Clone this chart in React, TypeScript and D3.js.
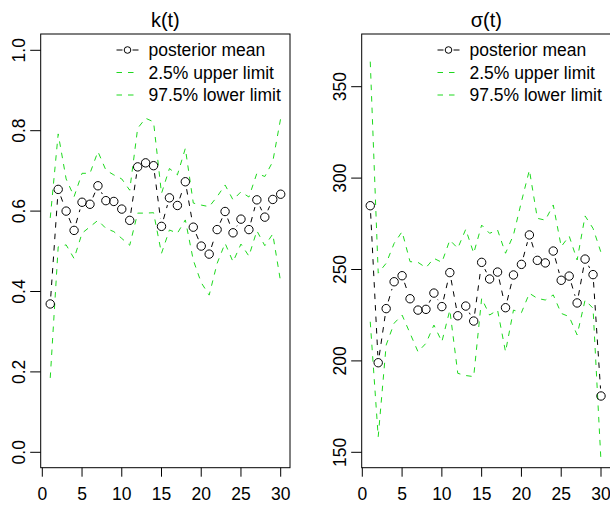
import React from "react";
import * as d3 from "d3";

const tValues = [1,2,3,4,5,6,7,8,9,10,11,12,13,14,15,16,17,18,19,20,21,22,23,24,25,26,27,28,29,30];

const kMean = [0.369,0.654,0.600,0.552,0.622,0.617,0.663,0.626,0.624,0.605,0.577,0.710,0.720,0.713,0.562,0.633,0.614,0.673,0.560,0.513,0.493,0.554,0.599,0.546,0.580,0.554,0.628,0.585,0.629,0.642];
const kUpper = [0.583,0.792,0.680,0.636,0.694,0.694,0.748,0.702,0.690,0.680,0.652,0.806,0.831,0.822,0.644,0.706,0.690,0.756,0.620,0.615,0.611,0.636,0.665,0.628,0.648,0.635,0.694,0.686,0.723,0.831];
const kLower = [0.185,0.511,0.516,0.482,0.545,0.561,0.577,0.557,0.549,0.532,0.515,0.595,0.595,0.596,0.495,0.553,0.545,0.578,0.478,0.422,0.391,0.470,0.520,0.474,0.518,0.488,0.551,0.514,0.543,0.423];

const sigmaMean = [284.9,199.0,228.6,243.3,246.6,234.0,227.8,228.2,237.1,229.7,248.3,224.7,230.0,221.8,253.9,244.8,248.6,229.1,247.0,252.8,268.9,255.0,253.6,260.1,244.1,246.4,231.7,255.7,247.2,180.8];
const sigmaUpper = [363.7,248.0,253.4,264.3,270.7,254.3,253.9,251.0,256.1,253.9,266.1,261.6,272.0,258.9,274.3,269.8,271.6,258.9,268.9,287.1,304.4,278.0,277.0,285.3,262.5,268.3,255.2,279.3,272.5,259.3];
const sigmaLower = [221.4,158.5,208.7,220.6,225.1,215.1,205.0,209.6,219.6,210.5,227.8,193.2,192.0,191.4,234.2,225.1,227.8,205.0,227.8,226.4,237.0,234.2,233.3,236.1,226.0,224.2,214.2,233.3,228.8,144.9];

const xTicks = [0,5,10,15,20,25,30];
const kTicks = [0,0.2,0.4,0.6,0.8,1.0];
const sigmaTicks = [150,200,250,300,350];

const legendLabels = ["posterior mean","2.5% upper limit","97.5% lower limit"];

const GREEN = "#1ed91e";
const DASH = "5.5,6";
const FONT = "'Liberation Sans', Arial, Helvetica, sans-serif";

type PanelProps = {
  title: string;
  mean: number[];
  upper: number[];
  lower: number[];
  yTicks: number[];
  yFmt: (v: number) => string;
  yDomain: [number, number];
  yRange: [number, number];
  boxLeft: number;
  boxRight: number;
  xRange: [number, number];
};

const TOP = 34;
const BOTTOM = 467.7;

function Panel(p: PanelProps) {
  const x = d3.scaleLinear().domain([0, 30]).range(p.xRange);
  const y = d3.scaleLinear().domain(p.yDomain).range(p.yRange);
  const line = d3.line<number>().x((_, i) => x(tValues[i])).y((d) => y(d));
  const pts = p.mean.map((v, i) => [x(tValues[i]), y(v)] as [number, number]);
  const gap = 7.5;
  const segs: string[] = [];
  for (let i = 0; i < pts.length - 1; i++) {
    const [x0, y0] = pts[i];
    const [x1, y1] = pts[i + 1];
    const L = Math.hypot(x1 - x0, y1 - y0);
    if (L <= 2 * gap) continue;
    const ux = (x1 - x0) / L, uy = (y1 - y0) / L;
    segs.push(`M${x0 + ux * gap},${y0 + uy * gap}L${x1 - ux * gap},${y1 - uy * gap}`);
  }
  const cx = (p.boxLeft + p.boxRight) / 2;
  const legX = p.boxRight - 141.5;
  const legY = [50, 72.5, 95];
  return (
    <g>
      <text x={cx} y={27} textAnchor="middle" fontSize={20} fontFamily={FONT}>{p.title}</text>
      <path d={line(p.upper) || ""} fill="none" stroke={GREEN} strokeWidth={1} strokeDasharray={DASH} />
      <path d={line(p.lower) || ""} fill="none" stroke={GREEN} strokeWidth={1} strokeDasharray={DASH} />
      <path d={segs.join("")} fill="none" stroke="#000" strokeWidth={1} strokeDasharray={DASH} />
      {pts.map(([px, py], i) => (
        <circle key={i} cx={px} cy={py} r={4.2} fill="none" stroke="#000" strokeWidth={1} />
      ))}
      <rect x={p.boxLeft} y={TOP} width={p.boxRight - p.boxLeft} height={BOTTOM - TOP} fill="none" stroke="#000" strokeWidth={1} />
      {xTicks.map((t) => (
        <g key={t}>
          <line x1={x(t)} x2={x(t)} y1={BOTTOM} y2={BOTTOM + 9} stroke="#000" strokeWidth={1} />
          <text x={x(t)} y={500} textAnchor="middle" fontSize={17.5} fontFamily={FONT}>{t}</text>
        </g>
      ))}
      {p.yTicks.map((v) => (
        <g key={v}>
          <line x1={p.boxLeft - 10.5} x2={p.boxLeft} y1={y(v)} y2={y(v)} stroke="#000" strokeWidth={1} />
          <text transform={`translate(${p.boxLeft - 15.5},${y(v)}) rotate(-90)`} textAnchor="middle" fontSize={17.5} fontFamily={FONT}>{p.yFmt(v)}</text>
        </g>
      ))}
      {legendLabels.map((lab, i) => (
        <g key={lab}>
          {i === 0 ? (
            <g>
              <line x1={legX - 32} x2={legX - 26} y1={legY[i]} y2={legY[i]} stroke="#000" strokeWidth={1} />
              <line x1={legX - 16} x2={legX - 10} y1={legY[i]} y2={legY[i]} stroke="#000" strokeWidth={1} />
              <circle cx={legX - 21} cy={legY[i]} r={3.3} fill="none" stroke="#000" strokeWidth={1} />
            </g>
          ) : (
            <line x1={legX - 32} x2={legX - 14} y1={legY[i]} y2={legY[i]} stroke={GREEN} strokeWidth={1} strokeDasharray={DASH} />
          )}
          <text x={legX} y={legY[i] + 6.3} fontSize={17.5} fontFamily={FONT}>{lab}</text>
        </g>
      ))}
    </g>
  );
}

export default function App() {
  return (
    <svg width={610} height={505} style={{ position: "absolute", left: 0, top: 0, background: "#fff" }}>
      <rect x={0} y={0} width={610} height={505} fill="#fff" />
      <Panel title="k(t)" mean={kMean} upper={kUpper} lower={kLower} yTicks={kTicks}
        yFmt={(v) => v.toFixed(1)} yDomain={[0, 1]} yRange={[452.3, 50.3]}
        boxLeft={40.7} boxRight={290} xRange={[42.3, 280.7]} />
      <Panel title="σ(t)" mean={sigmaMean} upper={sigmaUpper} lower={sigmaLower} yTicks={sigmaTicks}
        yFmt={(v) => String(v)} yDomain={[150, 350]} yRange={[452.3, 86.7]}
        boxLeft={361.7} boxRight={611} xRange={[362.3, 601]} />
    </svg>
  );
}
